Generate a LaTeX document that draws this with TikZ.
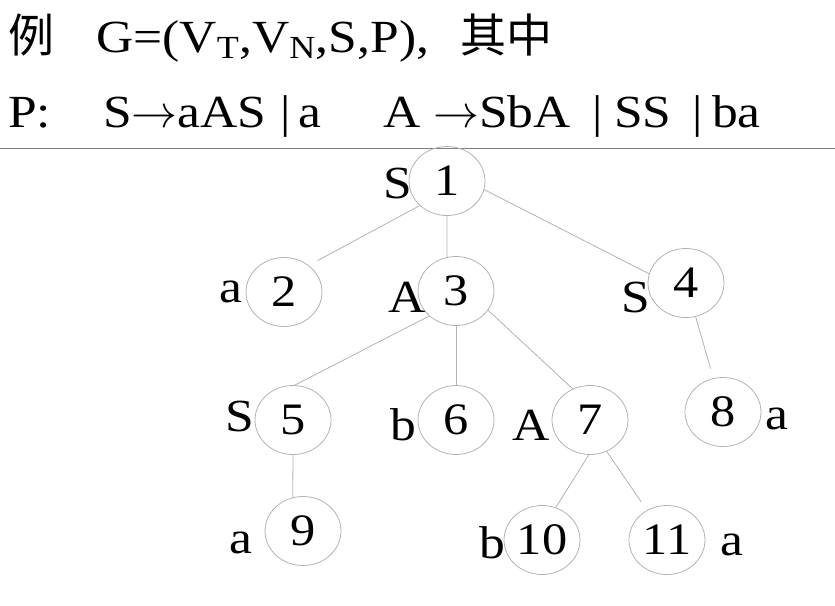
\RequirePackage{fix-cm}
\documentclass[tikz,border=0pt]{standalone}
\usepackage{fontspec}
\setmainfont{Liberation Serif}[FakeStretch=1.12]
\newfontfamily\cjk{Noto Sans CJK SC}
\usetikzlibrary{shapes.geometric}

\begin{document}
\begin{tikzpicture}[x=1pt,y=-1pt,
  num/.style={ellipse, draw=gray!60, line width=0.8pt, minimum width=76pt,
    minimum height=69pt, inner sep=0pt, font=\fontsize{45}{45}\selectfont},
  sym/.style={anchor=base, inner sep=0pt, font=\fontsize{46}{46}\selectfont},
  hdr/.style={anchor=base west, inner sep=0pt, font=\fontsize{46}{46}\selectfont},
  edge/.style={draw=gray!60, line width=0.8pt}]
\useasboundingbox (0,0) rectangle (835,605);
% header
\node[hdr] (h1) at (8,52) {\cjk 例};
\node[hdr] (h2) at (96,52) {G=(V\textsubscript{T},V\textsubscript{N},S,P),};
\node[hdr] (h3) at (460,52) {\cjk 其中};
\node[hdr] (h4) at (8,127) {P:};
\node[hdr] (h5) at (103,127) {S$\rightarrow$aAS};
\node[hdr] (h6) at (280,127) {|};
\node[hdr] (h7) at (298,127) {a};
\node[hdr] (h8) at (383,127) {A $\rightarrow$SbA};
\node[hdr] (h9) at (592,127) {|};
\node[hdr] (h10) at (614,127) {SS};
\node[hdr] (h11) at (692,127) {|};
\node[hdr] (h12) at (712,127) {ba};
\draw[gray, line width=0.8pt] (0,148) -- (835,148);
% tree
\node[num] (n1) at (447,181) {1};
\node[num] (n2) at (284,292) {2};
\node[num] (n3) at (456,291) {3};
\node[num] (n4) at (686,283) {4};
\node[num] (n5) at (293,420) {5};
\node[num] (n6) at (456,420) {6};
\node[num] (n7) at (590,420) {7};
\node[num] (n8) at (723,412) {8};
\node[num] (n9) at (303,531) {9};
\node[num] (n10) at (542,540) {10};
\node[num] (n11) at (667,540) {11};
% symbols
\node[sym] (s1) at (398,198) {S};
\node[sym] (s2) at (231,302) {a};
\node[sym] (s3) at (407,312) {A};
\node[sym] (s4) at (636,312) {S};
\node[sym] (s5) at (240,431) {S};
\node[sym] (s6) at (403,440) {b};
\node[sym] (s7) at (531,440) {A};
\node[sym] (s8) at (777,429) {a};
\node[sym] (s9) at (241,553) {a};
\node[sym] (s10) at (492,558) {b};
\node[sym] (s11) at (732,555) {a};
% edges
\draw[edge, shorten >=10pt] (n1.222) -- (n2.47);
\draw[edge] (n1.south) -- (n3.105);
\draw[edge] (n1.347) -- (n4.166);
\draw[edge] (n3.223) -- (n5.87);
\draw[edge] (n3.south) -- (n6.north);
\draw[edge] (n3.329) -- (n7.119);
\draw[edge, shorten >=10pt] (n4.286) -- (n8.106);
\draw[edge] (n5.south) -- (n9.107);
\draw[edge] (n7.268) -- (n10.67);
\draw[edge, shorten >=10pt] (n7.298) -- (n11.124);
\end{tikzpicture}
\end{document}
